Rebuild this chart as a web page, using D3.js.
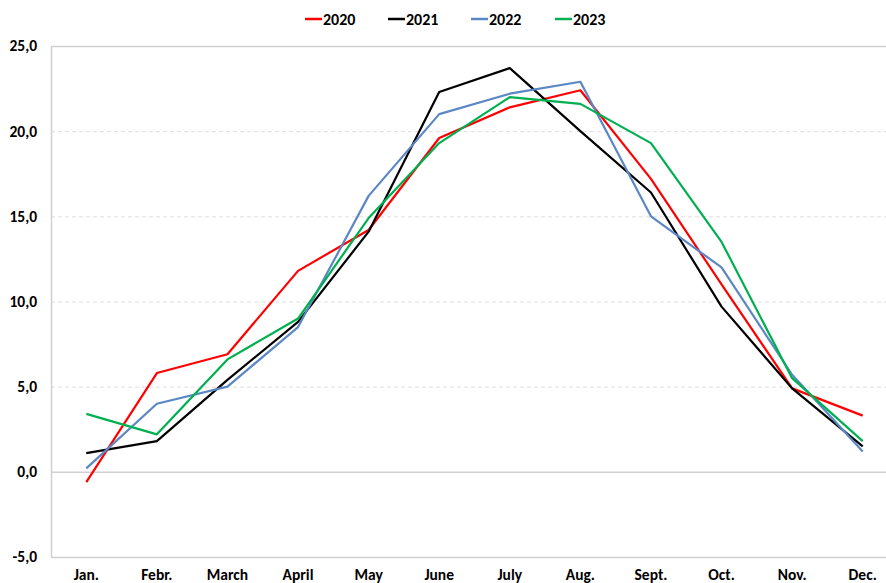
<!DOCTYPE html>
<html><head><meta charset="utf-8">
<script src="https://cdn.jsdelivr.net/npm/d3@7"></script>
<style>
body{margin:0;background:#fff;}
text{font-family:Carlito,"Liberation Sans Narrow","Liberation Sans",Arial,sans-serif;font-weight:bold;fill:#000;}
</style></head>
<body><svg id="c" width="886" height="583"></svg>
<script>
const months = ["Jan.","Febr.","March","April","May","June","July","Aug.","Sept.","Oct.","Nov.","Dec."];
const series2020 = [-0.6,5.8,6.9,11.8,14.2,19.6,21.4,22.4,17.2,11.0,4.9,3.3];
const series2021 = [1.1,1.8,5.4,8.8,14.1,22.3,23.7,20.0,16.4,9.7,4.9,1.5];
const series2022 = [0.2,4.0,5.0,8.5,16.2,21.0,22.2,22.9,15.0,12.0,5.7,1.2];
const series2023 = [3.4,2.2,6.6,9.0,14.9,19.3,22.0,21.6,19.3,13.5,5.5,1.8];
const seriesNames = ["2020","2021","2022","2023"];
const seriesColors = ["#ff0000","#000000","#5b87c5","#00b050"];
const yTicks = [-5,0,5,10,15,20,25];

const allSeries = [series2020,series2021,series2022,series2023];
const svg = d3.select("#c");
const pL = 51, pR = 898, pT = 46, pB = 557;
const x = d3.scaleBand().domain(months).range([pL,pR]);
const y = d3.scaleLinear().domain([-5,25]).range([pB,pT]);
const solid = d => d===0||d===-5||d===25;

// grid
svg.append("g").selectAll("line").data(yTicks).join("line")
  .attr("x1",pL).attr("x2",pR)
  .attr("y1",d=>y(d)+0.5).attr("y2",d=>y(d)+0.5)
  .attr("stroke",d=>solid(d)?"#d0d0d0":"#dedede")
  .attr("stroke-width",d=>solid(d)?1.5:1)
  .attr("stroke-dasharray",d=>solid(d)?null:"4,3");
svg.append("line").attr("x1",pL+0.5).attr("x2",pL+0.5).attr("y1",pT).attr("y2",pB)
  .attr("stroke","#d0d0d0").attr("stroke-width",1.5);

// y labels
const fmt = d => d.toFixed(1).replace(".",",");
svg.append("g").selectAll("text").data(yTicks).join("text")
  .attr("x",37).attr("y",d=>y(d)).attr("dy","0.35em")
  .attr("text-anchor","end").style("font-size","15.5px").text(fmt);

// x labels
svg.append("g").selectAll("text").data(months).join("text")
  .attr("x",d=>x(d)+x.bandwidth()/2).attr("y",580)
  .attr("text-anchor","middle").style("font-size","15.5px").text(d=>d);

// lines
const line = d3.line().x((d,i)=>x(months[i])+x.bandwidth()/2).y(d=>y(d));
svg.append("g").selectAll("path").data(allSeries).join("path")
  .attr("d",line).attr("fill","none")
  .attr("stroke",(d,i)=>seriesColors[i]).attr("stroke-width",2.2)
  .attr("stroke-linejoin","round");

// legend
const legX = [305,388,471,555];
const lg = svg.append("g").selectAll("g").data(seriesNames).join("g")
  .attr("transform",(d,i)=>`translate(${legX[i]},19)`);
lg.append("line").attr("x1",0).attr("x2",17).attr("y1",0).attr("y2",0)
  .attr("stroke",(d,i)=>seriesColors[i]).attr("stroke-width",2.5);
lg.append("text").attr("x",18).attr("y",0).attr("dy","0.36em")
  .style("font-size","16px").text(d=>d);
</script></body></html>
